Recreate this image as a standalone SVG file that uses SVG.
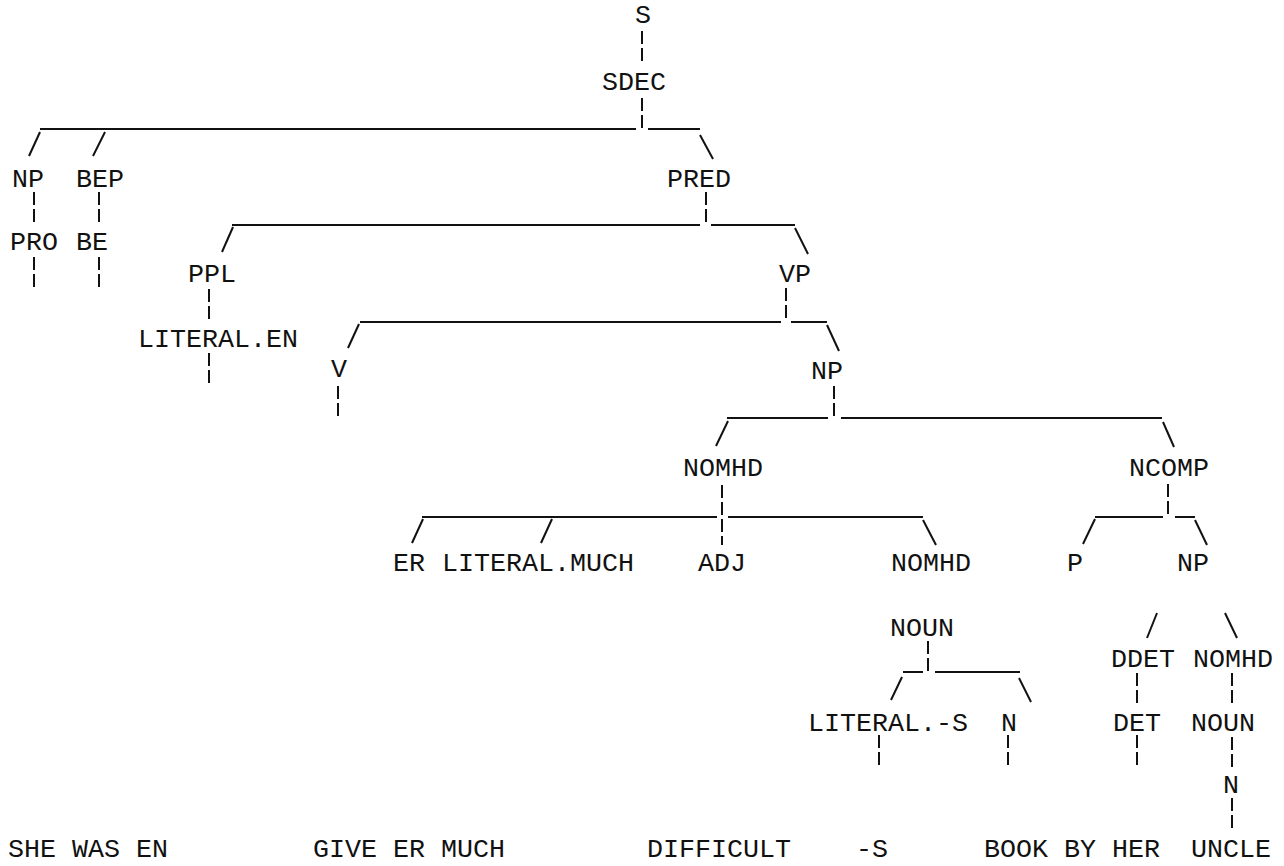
<svg xmlns="http://www.w3.org/2000/svg" width="1284" height="866" viewBox="0 0 1284 866">
<style>
text{font-family:"Liberation Mono","DejaVu Sans Mono",monospace;font-size:26.7px;fill:#111;text-anchor:middle}
.h,.s{stroke:#111;stroke-width:2;fill:none}
.d{stroke:#111;stroke-width:2;fill:none;stroke-dasharray:13 4}
</style>
<rect width="1284" height="866" fill="#fff"/>
<g id="connectors">
<line class="d" x1="642" y1="31" x2="642" y2="61"/>
<line class="d" x1="642" y1="98" x2="642" y2="128"/>
<line class="h" x1="40" y1="129" x2="636" y2="129"/>
<line class="h" x1="648" y1="129" x2="700" y2="129"/>
<line class="s" x1="40" y1="132" x2="29" y2="156"/>
<line class="s" x1="105" y1="132" x2="93" y2="156"/>
<line class="s" x1="700" y1="135" x2="713" y2="159"/>
<line class="d" x1="34" y1="192" x2="34" y2="222"/>
<line class="d" x1="99" y1="192" x2="99" y2="222"/>
<line class="d" x1="34" y1="257" x2="34" y2="287"/>
<line class="d" x1="99" y1="257" x2="99" y2="287"/>
<line class="d" x1="706" y1="192" x2="706" y2="222"/>
<line class="h" x1="232" y1="225" x2="700" y2="225"/>
<line class="h" x1="711" y1="225" x2="795" y2="225"/>
<line class="s" x1="233" y1="227" x2="222" y2="252"/>
<line class="s" x1="795" y1="228" x2="808" y2="254"/>
<line class="d" x1="209" y1="289" x2="209" y2="319"/>
<line class="d" x1="786" y1="288" x2="786" y2="318"/>
<line class="h" x1="360" y1="322" x2="781" y2="322"/>
<line class="h" x1="791" y1="322" x2="827" y2="322"/>
<line class="s" x1="359" y1="324" x2="348" y2="348"/>
<line class="s" x1="827" y1="325" x2="839" y2="351"/>
<line class="d" x1="209" y1="353" x2="209" y2="383"/>
<line class="d" x1="338" y1="386" x2="338" y2="416"/>
<line class="d" x1="834" y1="386" x2="834" y2="416"/>
<line class="h" x1="727" y1="418" x2="828" y2="418"/>
<line class="h" x1="841" y1="418" x2="1162" y2="418"/>
<line class="s" x1="728" y1="421" x2="716" y2="446"/>
<line class="s" x1="1163" y1="422" x2="1174" y2="447"/>
<line class="d" x1="722" y1="485" x2="722" y2="545"/>
<line class="d" x1="1168" y1="484" x2="1168" y2="514"/>
<line class="h" x1="422" y1="517" x2="717" y2="517"/>
<line class="h" x1="728" y1="517" x2="923" y2="517"/>
<line class="s" x1="423" y1="519" x2="412" y2="543"/>
<line class="s" x1="552" y1="519" x2="541" y2="543"/>
<line class="s" x1="923" y1="520" x2="936" y2="545"/>
<line class="h" x1="1095" y1="517" x2="1163" y2="517"/>
<line class="h" x1="1175" y1="517" x2="1195" y2="517"/>
<line class="s" x1="1095" y1="519" x2="1083" y2="544"/>
<line class="s" x1="1195" y1="520" x2="1207" y2="545"/>
<line class="d" x1="928" y1="641" x2="928" y2="671"/>
<line class="h" x1="903" y1="672" x2="923" y2="672"/>
<line class="h" x1="935" y1="672" x2="1020" y2="672"/>
<line class="s" x1="902" y1="677" x2="891" y2="700"/>
<line class="s" x1="1019" y1="678" x2="1031" y2="702"/>
<line class="s" x1="1157" y1="613" x2="1147" y2="638"/>
<line class="s" x1="1225" y1="613" x2="1237" y2="638"/>
<line class="d" x1="1137" y1="673" x2="1137" y2="703"/>
<line class="d" x1="1232" y1="673" x2="1232" y2="703"/>
<line class="d" x1="879" y1="735" x2="879" y2="765"/>
<line class="d" x1="1008" y1="735" x2="1008" y2="765"/>
<line class="d" x1="1137" y1="735" x2="1137" y2="765"/>
<line class="d" x1="1232" y1="737" x2="1232" y2="767"/>
<line class="d" x1="1232" y1="798" x2="1232" y2="828"/>
</g>
<g id="n-s"><text x="643" y="23">S</text></g>
<g id="n-sdec"><text x="634" y="90">SDEC</text></g>
<g id="n-np1"><text x="28" y="187">NP</text></g>
<g id="n-bep"><text x="100" y="187">BEP</text></g>
<g id="n-pred"><text x="699" y="187">PRED</text></g>
<g id="n-pro"><text x="34" y="250">PRO</text></g>
<g id="n-be"><text x="92" y="250">BE</text></g>
<g id="n-ppl"><text x="212" y="282">PPL</text></g>
<g id="n-vp"><text x="795" y="282">VP</text></g>
<g id="n-literal-en"><text x="218" y="347">LITERAL.EN</text></g>
<g id="n-v"><text x="339" y="377">V</text></g>
<g id="n-np2"><text x="827" y="379">NP</text></g>
<g id="n-nomhd1"><text x="723" y="476">NOMHD</text></g>
<g id="n-ncomp"><text x="1169" y="476">NCOMP</text></g>
<g id="n-er"><text x="409" y="571">ER</text></g>
<g id="n-literal-much"><text x="538" y="571">LITERAL.MUCH</text></g>
<g id="n-adj"><text x="722" y="571">ADJ</text></g>
<g id="n-nomhd2"><text x="931" y="571">NOMHD</text></g>
<g id="n-p"><text x="1075" y="571">P</text></g>
<g id="n-np3"><text x="1193" y="571">NP</text></g>
<g id="n-noun1"><text x="922" y="636">NOUN</text></g>
<g id="n-ddet"><text x="1143" y="667">DDET</text></g>
<g id="n-nomhd3"><text x="1233" y="667">NOMHD</text></g>
<g id="n-literal-s"><text x="888" y="731">LITERAL.-S</text></g>
<g id="n-n1"><text x="1009" y="731">N</text></g>
<g id="n-det"><text x="1137" y="731">DET</text></g>
<g id="n-noun2"><text x="1223" y="731">NOUN</text></g>
<g id="n-n2"><text x="1231" y="793">N</text></g>
<g id="leaves">
<text x="88" y="857">SHE WAS EN</text>
<text x="409" y="857">GIVE ER MUCH</text>
<text x="719" y="857">DIFFICULT</text>
<text x="872" y="857">-S</text>
<text x="1072" y="857">BOOK BY HER</text>
<text x="1231" y="857">UNCLE</text>
</g>
</svg>
